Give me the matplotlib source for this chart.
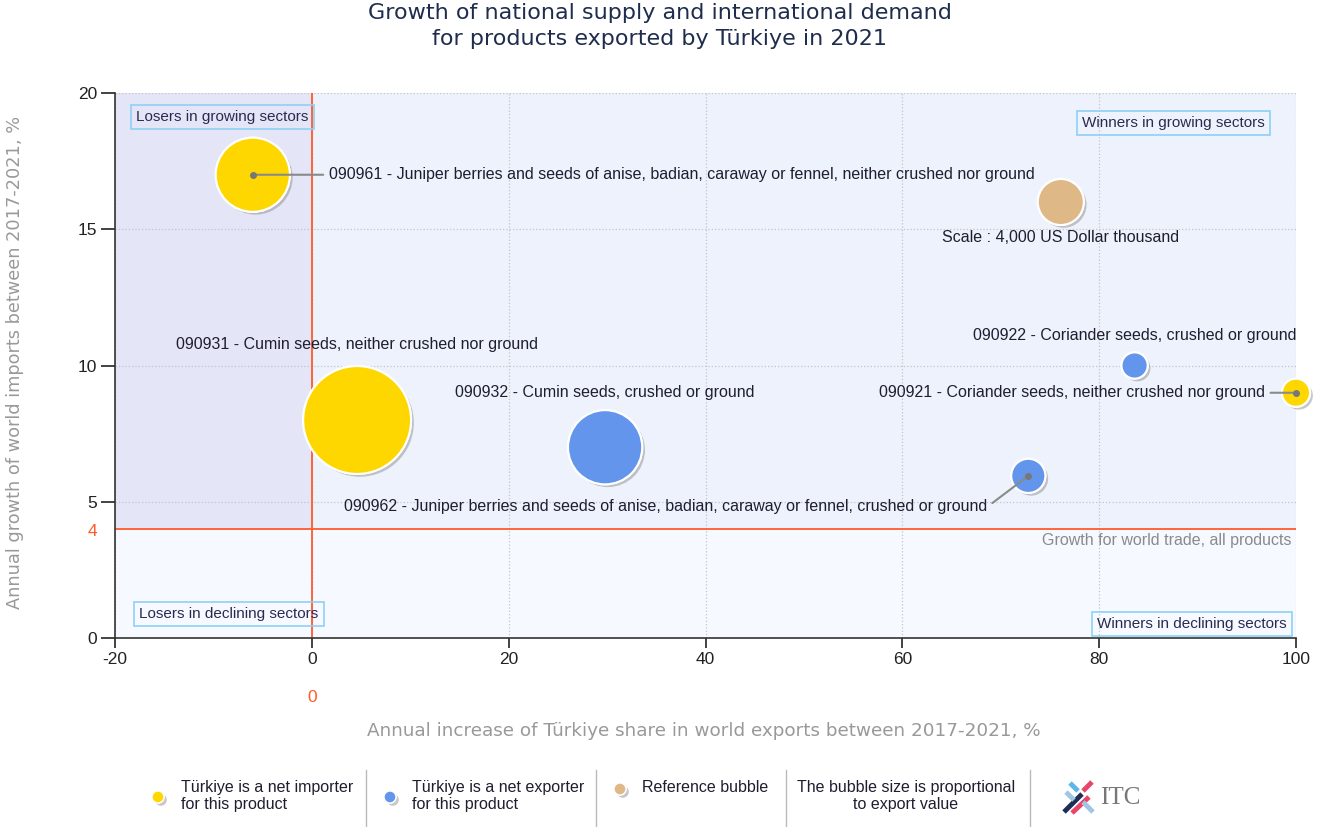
import matplotlib
matplotlib.use("Agg")
import matplotlib.pyplot as plt
import matplotlib.patheffects as pe
from matplotlib.patches import Rectangle

plt.rcParams['axes.unicode_minus'] = False

# product data
codes = ['090961', '090931', '090932', '090962', '090922', '090921']
names = ['Juniper berries and seeds of anise, badian, caraway or fennel, neither crushed nor ground',
         'Cumin seeds, neither crushed nor ground',
         'Cumin seeds, crushed or ground',
         'Juniper berries and seeds of anise, badian, caraway or fennel, crushed or ground',
         'Coriander seeds, crushed or ground',
         'Coriander seeds, neither crushed nor ground']
share_growth = [-6.0, 4.6, 29.8, 72.8, 83.6, 100.0]     # x, %
import_growth = [17.0, 8.0, 7.0, 5.95, 10.0, 9.0]       # y, %
export_value = [10400, 22000, 10400, 2200, 1300, 1500]  # US$ thousand
net_exporter = [False, False, True, True, True, False]

ref_value = 4000
ref_x, ref_y = 76.1, 16.0
world_growth = 4
x_ticks = [-20, 0, 20, 40, 60, 80, 100]
y_ticks = [0, 5, 10, 15, 20]

# label placement: offset in pixels from bubble centre, alignment, leader line
LABEL_POS = {'090961': (76, 0, 'left', True),
             '090931': (0, 75, 'center', False),
             '090932': (0, 55, 'center', False),
             '090962': (-41, -31, 'right', True),
             '090922': (0, 30, 'center', False),
             '090921': (-31, 0, 'right', True)}

YELLOW, BLUE, TAN = '#FFD700', '#6495ED', '#DEB887'
RED = '#FF5A2B'
TXT = '#1e1e30'
SANS = ['Liberation Sans', 'DejaVu Sans']
K = (1.44 * 23) ** 2 / ref_value   # points^2 per US$ thousand
SHADOW = [pe.withSimplePatchShadow(offset=(2, -2), shadow_rgbFace='#777777', alpha=0.4),
          pe.Normal()]

W, H = 1333, 827
fig = plt.figure(figsize=(W / 100, H / 100), dpi=100)
ax = fig.add_axes([115 / W, 189 / H, 1181 / W, 545 / H])
ax.set_xlim(-20, 100)
ax.set_ylim(0, 20)

# quadrant backgrounds
ax.add_patch(Rectangle((-20, world_growth), 20, 20 - world_growth, fc='#E5E5F8', lw=0, zorder=0))
ax.add_patch(Rectangle((0, world_growth), 100, 20 - world_growth, fc='#EEF2FC', lw=0, zorder=0))
ax.add_patch(Rectangle((-20, 0), 120, world_growth, fc='#F6F9FF', lw=0, zorder=0))
ax.set_axisbelow(True)
ax.grid(True, color='#C4C4C4', ls=':', lw=0.9)

ax.axvline(0, color=RED, lw=1.3, zorder=1)
ax.axhline(world_growth, color=RED, lw=1.3, zorder=1)

ax.set_xticks(x_ticks)
ax.set_yticks(y_ticks)
ax.tick_params(axis='x', length=7, width=1.2, pad=3, labelsize=12.5, colors='#222222')
ax.tick_params(axis='y', length=10, width=1.2, pad=3, labelsize=12.5, colors='#222222')
for lab in ax.get_xticklabels() + ax.get_yticklabels():
    lab.set_family(SANS)
for s in ['top', 'right']:
    ax.spines[s].set_visible(False)
for s in ['left', 'bottom']:
    ax.spines[s].set_color('#333333')
    ax.spines[s].set_linewidth(1.2)

ax.annotate(str(world_growth), xy=(0, world_growth), xycoords=('axes fraction', 'data'),
            xytext=(-18, -2), textcoords='offset pixels', ha='right', va='center',
            color=RED, fontsize=12.5, family=SANS)
ax.annotate('0', xy=(0, 0), xycoords=('data', 'axes fraction'), xytext=(0, -59),
            textcoords='offset pixels', ha='center', va='center', color=RED, fontsize=12.5,
            family=SANS)

# bubbles
colors = [BLUE if e else YELLOW for e in net_exporter]
sizes = [v * K for v in export_value]
sc = ax.scatter(share_growth, import_growth, s=sizes, c=colors, edgecolors='white',
                linewidths=1.5, zorder=3, clip_on=False)
sc.set_path_effects(SHADOW)
rs = ax.scatter([ref_x], [ref_y], s=[ref_value * K], c=[TAN], edgecolors='white',
                linewidths=1.5, zorder=3, clip_on=False)
rs.set_path_effects(SHADOW)

for code, name, x, y in zip(codes, names, share_growth, import_growth):
    dx, dy, ha, leader = LABEL_POS[code]
    kw = {}
    if leader:
        kw['arrowprops'] = dict(arrowstyle='-', color='#8a8a8a', lw=1.5, shrinkA=2, shrinkB=0,
                                relpos=(0, 0.5) if ha == 'left' else (1, 0.5))
        ax.plot([x], [y], 'o', ms=4, color='#777777', zorder=5, clip_on=False)
    ax.annotate(f'{code} - {name}', xy=(x, y), xytext=(dx, dy), textcoords='offset pixels',
                ha=ha, va='center', fontsize=11.5, color=TXT, family=SANS, zorder=4, **kw)

ax.annotate(f'Scale : {ref_value:,} US Dollar thousand', xy=(ref_x, ref_y), xytext=(0, -36),
            textcoords='offset pixels', ha='center', va='center', fontsize=11.5, color=TXT,
            family=SANS)
ax.annotate('Growth for world trade, all products', xy=(1, world_growth),
            xycoords=('axes fraction', 'data'), xytext=(-4, -12), textcoords='offset pixels',
            ha='right', va='center', fontsize=11.5, color='#8a8a8a', family=SANS)

# quadrant captions
box = dict(boxstyle='square,pad=0.35', fc='none', ec='#8FD0F5', lw=1.2)
for txt, qx, qy, ha in [('Losers in growing sectors', 0.0178, 0.956, 'left'),
                        ('Winners in growing sectors', 0.9738, 0.945, 'right'),
                        ('Losers in declining sectors', 0.0203, 0.044, 'left'),
                        ('Winners in declining sectors', 0.9924, 0.0257, 'right')]:
    ax.text(qx, qy, txt, transform=ax.transAxes, ha=ha, va='center', fontsize=11,
            color='#2a2a50', family=SANS, bbox=box, zorder=4)

# titles and axis labels
fig.text(660 / W, 1 - 26 / H, 'Growth of national supply and international demand\n'
         'for products exported by Türkiye in 2021', ha='center', va='center',
         fontsize=16, color='#1f2d4d', linespacing=1.4)
fig.text(15 / W, 1 - 362 / H, 'Annual growth of world imports between 2017-2021, %',
         rotation=90, ha='center', va='center', fontsize=12.8, color='#999999')
fig.text(704 / W, 1 - 731 / H,
         'Annual increase of Türkiye share in world exports between 2017-2021, %',
         ha='center', va='center', fontsize=13.2, color='#999999')

# legend strip, drawn in pixel coordinates
lg = fig.add_axes([0, 0, 1, 1], zorder=5)
lg.set_xlim(0, W)
lg.set_ylim(H, 0)
lg.axis('off')
for xd in [366, 596, 786, 1030]:
    lg.plot([xd, xd], [770, 827], color='#BBBBBB', lw=1)
for xd, yd, col in [(158, 797, YELLOW), (390, 797, BLUE), (620, 789, TAN)]:
    d = lg.scatter([xd], [yd], s=75, c=[col], edgecolors='white', linewidths=1)
    d.set_path_effects(SHADOW)
lg.text(181, 796, 'Türkiye is a net importer\nfor this product', ha='left', va='center',
        fontsize=11.5, color=TXT, family=SANS, linespacing=1.15)
lg.text(412, 796, 'Türkiye is a net exporter\nfor this product', ha='left', va='center',
        fontsize=11.5, color=TXT, family=SANS, linespacing=1.15)
lg.text(642, 788, 'Reference bubble', ha='left', va='center',
        fontsize=11.5, color=TXT, family=SANS)
lg.text(906, 796, 'The bubble size is proportional\nto export value', ha='center',
        va='center', fontsize=11.5, color=TXT, family=SANS, linespacing=1.15,
        multialignment='center')

# ITC logo
for (x0, y0, x1, y1, col) in [(1070, 783, 1078, 791, '#5BB8E8'),
                              (1092, 782, 1083, 791, '#E8456A'),
                              (1064, 812, 1082, 794, '#1c2e55'),
                              (1072, 813, 1089, 797, '#E8456A'),
                              (1083, 802, 1093, 812, '#9FC6E2'),
                              (1066, 792, 1074, 800, '#9FC6E2')]:
    lg.plot([x0, x1], [y0, y1], color=col, lw=3.5, solid_capstyle='butt')
lg.text(1100, 798, 'ITC', ha='left', va='center', fontsize=18, color='#777777',
        family=['Liberation Serif', 'DejaVu Serif'])

fig.savefig('out.png', dpi=100)
